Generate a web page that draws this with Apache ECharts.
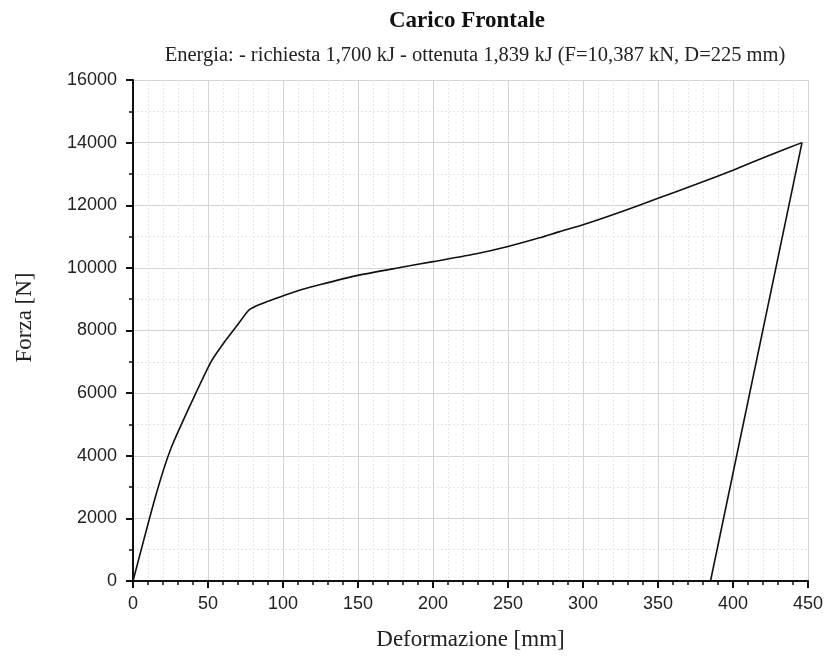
<!DOCTYPE html>
<html>
<head>
<meta charset="utf-8">
<script src="https://cdn.jsdelivr.net/npm/echarts@6/dist/echarts.min.js"></script>
<style>
html,body{margin:0;padding:0;background:#fff;}
#chart{width:829px;height:662px;}
</style>
</head>
<body>
<div id="chart"></div>
<script>
var titleText = 'Carico Frontale';
var subtitleText = 'Energia: - richiesta 1,700 kJ - ottenuta 1,839 kJ (F=10,387 kN, D=225 mm)';
var xName = 'Deformazione [mm]';
var yName = 'Forza [N]';

// loading branch
var loadDeformation = [0, 15, 25, 38, 52, 62, 70, 77, 82, 87, 95, 102, 112, 125, 150, 178, 200, 229, 250, 271, 284, 300, 326, 350, 375, 400, 424, 446];
var loadForce = [0, 2700, 4200, 5600, 7000, 7700, 8200, 8640, 8780, 8880, 9020, 9140, 9300, 9470, 9760, 10010, 10200, 10450, 10680, 10960, 11150, 11375, 11800, 12220, 12660, 13120, 13590, 14000];
// unloading branch
var unloadDeformation = [446, 385];
var unloadForce = [14000, 0];

var xMin = 0, xMax = 450, xStep = 50;
var yMin = 0, yMax = 16000, yStep = 2000;

function pairs(xs, ys) { return xs.map(function (d, i) { return [d, ys[i]]; }); }

var serif = '"Liberation Serif", "Times New Roman", serif';
var sans = '"Liberation Sans", Arial, sans-serif';

var chart = echarts.init(document.getElementById('chart'));
chart.setOption({
  backgroundColor: '#ffffff',
  animation: false,
  title: [
    { text: titleText, left: 462, top: 5, textAlign: 'center',
      textStyle: { fontFamily: serif, fontSize: 23, fontWeight: 'bold', color: '#111' } },
    { text: subtitleText, left: 470, top: 40, textAlign: 'center',
      textStyle: { fontFamily: serif, fontSize: 20.5, fontWeight: 'normal', color: '#222' } }
  ],
  grid: { left: 133, right: 21, top: 80, bottom: 81, containLabel: false },
  xAxis: {
    type: 'value', min: xMin, max: xMax, interval: xStep,
    name: xName, nameLocation: 'middle', nameGap: 47,
    nameTextStyle: { fontFamily: serif, fontSize: 23, color: '#222' },
    axisLine: { show: true, lineStyle: { color: '#111', width: 2 } },
    axisTick: { show: true, length: 7, inside: false, lineStyle: { color: '#111', width: 2 } },
    minorTick: { show: true, splitNumber: 5, length: 4, lineStyle: { color: '#111', width: 1.5 } },
    axisLabel: { fontFamily: sans, fontSize: 18, color: '#222', margin: 14 },
    splitLine: { show: true, lineStyle: { color: '#d4d4d4', width: 1 } },
    minorSplitLine: { show: true, lineStyle: { color: '#e6e6e6', width: 1, type: [2, 2] } }
  },
  yAxis: {
    type: 'value', min: yMin, max: yMax, interval: yStep,
    name: yName, nameLocation: 'middle', nameGap: 97, nameRotate: 90,
    nameTextStyle: { fontFamily: serif, fontSize: 23, color: '#222', padding: [0, 0, 0, 26] },
    axisLine: { show: true, lineStyle: { color: '#111', width: 2 } },
    axisTick: { show: true, length: 7, inside: false, lineStyle: { color: '#111', width: 2 } },
    minorTick: { show: true, splitNumber: 2, length: 4, lineStyle: { color: '#111', width: 1.5 } },
    axisLabel: { fontFamily: sans, fontSize: 18, color: '#222', margin: 16,
      formatter: function (v) { return String(v); } },
    splitLine: { show: true, lineStyle: { color: '#d4d4d4', width: 1 } },
    minorSplitLine: { show: true, lineStyle: { color: '#e6e6e6', width: 1, type: [2, 2] } }
  },
  series: [{
    type: 'line',
    data: pairs(loadDeformation, loadForce),
    showSymbol: false,
    symbol: 'none',
    smooth: 0.2,
    lineStyle: { color: '#111', width: 1.6 },
    z: 5
  }, {
    type: 'line',
    data: pairs(unloadDeformation, unloadForce),
    showSymbol: false,
    symbol: 'none',
    smooth: false,
    lineStyle: { color: '#111', width: 1.6 },
    z: 5
  }]
});
</script>
</body>
</html>
